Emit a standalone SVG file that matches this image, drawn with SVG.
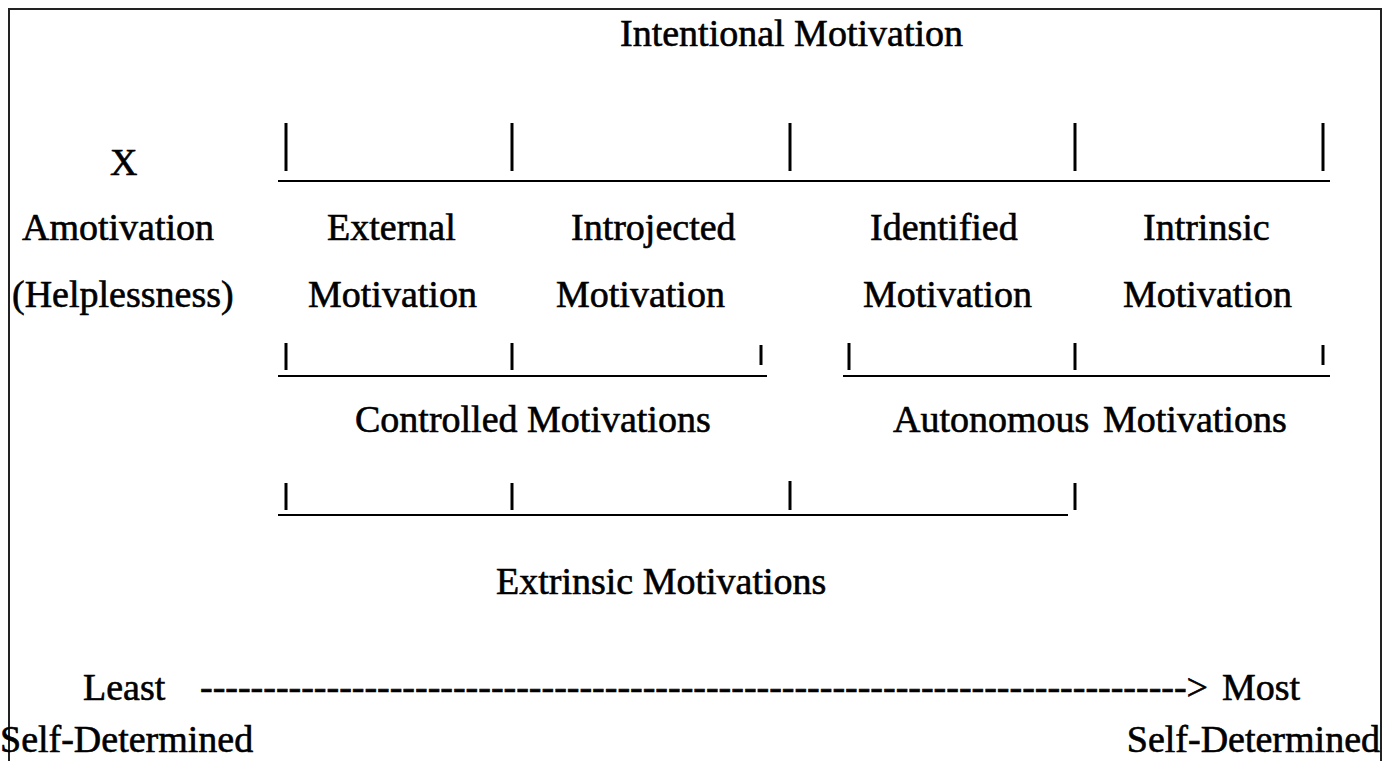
<svg xmlns="http://www.w3.org/2000/svg" width="1390" height="761" viewBox="0 0 1390 761">
<style>
text{font-family:"Liberation Serif","Times New Roman",serif;font-size:38px;fill:#000;stroke:#000;stroke-width:0.6}
.ln{stroke:#000;stroke-width:2;fill:none}
.tk{stroke:#000;stroke-width:3;fill:none}
</style>
<rect x="0" y="0" width="1390" height="761" fill="#fff"/>
<path d="M9,761 V9 H1381 V761" fill="none" stroke="#222" stroke-width="2"/>
<g id="title"><text x="620" y="46">Intentional Motivation</text></g>
<g id="amotivation">
<text x="110" y="175">X</text>
<text x="22" y="240">Amotivation</text>
<text x="12" y="307">(Helplessness)</text>
</g>
<g id="external"><text x="327" y="240">External</text><text x="308" y="307">Motivation</text></g>
<g id="introjected"><text x="571" y="240">Introjected</text><text x="556" y="307">Motivation</text></g>
<g id="identified"><text x="870" y="240">Identified</text><text x="863" y="307">Motivation</text></g>
<g id="intrinsic"><text x="1143" y="240">Intrinsic</text><text x="1123" y="307">Motivation</text></g>
<g id="controlled"><text x="355" y="432">Controlled Motivations</text></g>
<g id="autonomous"><text x="893" y="432">Autonomous</text><text x="1103" y="432">Motivations</text></g>
<g id="extrinsic"><text x="496" y="594">Extrinsic Motivations</text></g>
<g id="scale">
<text x="83" y="700">Least</text>
<text x="200" y="700" textLength="1008" lengthAdjust="spacingAndGlyphs">------------------------------------------------------------------------------&gt;</text>
<text x="1222" y="700">Most</text>
<text x="0" y="752">Self-Determined</text>
<text x="1380" y="752" text-anchor="end">Self-Determined</text>
</g>
<g id="connectors">
<line class="ln" x1="278" y1="181" x2="1330" y2="181"/>
<line class="tk" x1="286" y1="123" x2="286" y2="171"/>
<line class="tk" x1="512" y1="123" x2="512" y2="171"/>
<line class="tk" x1="790" y1="123" x2="790" y2="171"/>
<line class="tk" x1="1075" y1="123" x2="1075" y2="171"/>
<line class="tk" x1="1323" y1="123" x2="1323" y2="171"/>
<line class="ln" x1="278" y1="376" x2="767" y2="376"/>
<line class="ln" x1="843" y1="376" x2="1330" y2="376"/>
<line class="tk" x1="286" y1="343" x2="286" y2="370"/>
<line class="tk" x1="512" y1="343" x2="512" y2="370"/>
<line class="tk" x1="761" y1="345" x2="761" y2="365"/>
<line class="tk" x1="849" y1="343" x2="849" y2="370"/>
<line class="tk" x1="1075" y1="343" x2="1075" y2="370"/>
<line class="tk" x1="1323" y1="345" x2="1323" y2="365"/>
<line class="ln" x1="278" y1="515" x2="1068" y2="515"/>
<line class="tk" x1="286" y1="483" x2="286" y2="510"/>
<line class="tk" x1="512" y1="483" x2="512" y2="510"/>
<line class="tk" x1="790" y1="481" x2="790" y2="510"/>
<line class="tk" x1="1075" y1="483" x2="1075" y2="510"/>
</g>
</svg>
